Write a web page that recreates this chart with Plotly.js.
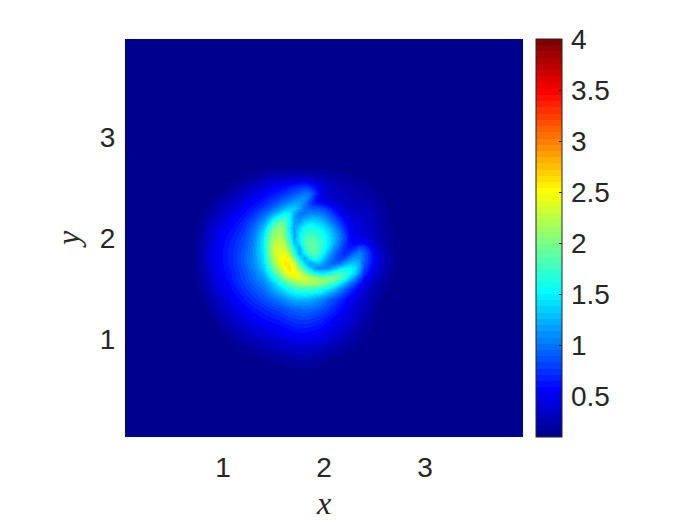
<!DOCTYPE html>
<html><head><meta charset="utf-8">
<script src="https://cdn.plot.ly/plotly-3.0.1.min.js"></script>
<style>html,body{margin:0;padding:0;background:#fff}</style></head>
<body><div id="chart" style="width:700px;height:525px"></div>
<script>
const xValues=[0.03,0.6,0.7,0.8,0.9,1.0,1.1,1.2,1.3,1.4,1.45,1.5,1.55,1.6,1.65,1.7,1.75,1.8,1.85,1.9,1.95,2.0,2.05,2.1,2.15,2.2,2.25,2.3,2.35,2.4,2.5,2.6,2.7,2.8,2.9,3.97];
const bg=0.1;
const y270=[.1,.1,.1,.1,.1,.1,.1,.11, .12,.13,.14,.14,.15,.15,.15,.15,.14,.14,.14,.13,.13,.12,.12,.11,.11,.11,.1,.1,.1, .1,.1,.1,.1,.1];
const y260=[.1,.1,.1,.1,.1,.11,.14,.19, .24,.27,.3,.31,.32,.33,.33,.32,.31,.3,.29,.27,.26,.25,.23,.21,.19,.18,.16,.15,.14, .11,.1,.1,.1,.1];
const y250=[.1,.1,.1,.1,.12,.18,.27,.35, .42,.47,.52,.55,.6,.65,.7,.75,.8,.75,.62,.48,.38,.33,.3,.28,.26,.24,.22,.2,.19, .15,.11,.1,.1,.1];
const y245=[.1,.1,.1,.11,.17,.25,.33,.42, .52,.57,.63,.68,.74,.8,.87,.93,1.0,.98,.8,.55,.42,.36,.33,.3,.28,.27,.25,.23,.22, .18,.13,.1,.1,.1];
const y240=[.1,.1,.1,.14,.22,.31,.4,.5, .6,.66,.72,.79,.87,.94,1.02,1.1,1.12,.95,.66,.48,.4,.36,.33,.31,.3,.29,.27,.25,.24, .2,.14,.11,.1,.1];
const y235=[.1,.1,.11,.18,.27,.37,.47,.57, .68,.75,.84,.93,1.02,1.12,1.18,1.18,1.05,.82,.68,.6,.54,.46,.4,.36,.32,.3,.29,.28,.27, .22,.16,.11,.1,.1];
const y230=[.1,.1,.13,.22,.32,.42,.53,.64, .78,.87,.98,1.1,1.22,1.32,1.35,1.2,1.0,.9,.88,.86,.8,.68,.56,.46,.37,.33,.32,.31,.3, .24,.17,.12,.1,.1];
const y225=[.1,.1,.15,.26,.37,.47,.58,.72, .9,1.03,1.18,1.35,1.52,1.5,1.22,1.02,1.0,1.05,1.07,1.03,.96,.84,.7,.56,.45,.38,.35,.34,.33, .26,.18,.12,.1,.1];
const y220=[.1,.11,.17,.3,.42,.52,.64,.8, 1.03,1.22,1.45,1.68,1.78,1.55,1.15,1.08,1.18,1.25,1.28,1.22,1.12,.98,.84,.68,.54,.44,.38,.37,.35, .27,.18,.13,.1,.1];
const y215=[.1,.12,.2,.34,.46,.56,.69,.88, 1.15,1.42,1.72,1.95,1.92,1.55,1.18,1.22,1.38,1.45,1.45,1.38,1.28,1.12,.97,.8,.64,.5,.42,.4,.37, .28,.19,.13,.1,.1];
const y210=[.1,.12,.22,.38,.5,.6,.73,.95, 1.28,1.6,1.92,2.08,1.95,1.5,1.18,1.38,1.55,1.62,1.6,1.52,1.42,1.28,1.1,.92,.72,.55,.45,.42,.39, .29,.2,.13,.1,.1];
const y205=[.1,.13,.24,.41,.54,.64,.77,1.0, 1.38,1.75,2.05,2.18,2.0,1.58,1.18,1.48,1.68,1.75,1.72,1.65,1.52,1.38,1.2,1.02,.8,.58,.47,.43,.41, .3,.2,.14,.1,.1];
const y200=[.1,.13,.25,.43,.56,.67,.8,1.03, 1.45,1.85,2.12,2.25,2.08,1.68,1.2,1.5,1.75,1.85,1.82,1.72,1.6,1.42,1.25,1.05,.84,.6,.48,.46,.45, .31,.21,.14,.1,.1];
const y195=[.1,.14,.26,.45,.58,.69,.83,1.06, 1.48,1.9,2.2,2.32,2.2,1.82,1.25,1.42,1.8,1.92,1.88,1.78,1.62,1.42,1.22,1.0,.78,.6,.54,.58,.58, .34,.22,.14,.1,.1];
const y190=[.1,.14,.27,.46,.59,.71,.85,1.08, 1.48,1.92,2.25,2.38,2.3,2.0,1.5,1.2,1.65,1.9,1.9,1.78,1.58,1.34,1.1,.9,.72,.64,.7,.85,.8, .4,.24,.14,.1,.1];
const y185=[.1,.14,.28,.47,.6,.72,.87,1.09, 1.45,1.9,2.25,2.43,2.42,2.18,1.7,1.2,1.48,1.82,1.88,1.7,1.45,1.2,.97,.8,.7,.78,.95,1.05,.92, .47,.26,.15,.1,.1];
const y180=[.1,.14,.28,.47,.6,.72,.88,1.1, 1.42,1.82,2.18,2.47,2.54,2.4,2.0,1.5,1.2,1.48,1.68,1.55,1.3,1.06,.9,.78,.84,1.02,1.15,1.12,.92, .5,.28,.15,.1,.1];
const y175=[.1,.14,.27,.46,.59,.72,.87,1.08, 1.38,1.72,2.08,2.38,2.58,2.58,2.28,1.78,1.42,1.15,1.25,1.28,1.12,.98,.9,.95,1.14,1.28,1.32,1.2,.88, .48,.28,.15,.1,.1];
const y170=[.1,.14,.26,.45,.58,.7,.85,1.05, 1.32,1.62,1.92,2.22,2.5,2.62,2.45,2.08,1.72,1.42,1.18,1.08,1.05,1.1,1.25,1.42,1.52,1.55,1.45,1.22,.8, .44,.26,.15,.1,.1];
const y165=[.1,.13,.25,.43,.56,.67,.82,1.0, 1.22,1.48,1.72,2.02,2.32,2.5,2.55,2.4,2.1,1.8,1.6,1.5,1.5,1.62,1.75,1.8,1.75,1.6,1.38,1.08,.7, .39,.24,.14,.1,.1];
const y160=[.1,.12,.23,.41,.55,.67,.81,.97, 1.13,1.32,1.54,1.78,2.05,2.25,2.35,2.38,2.38,2.3,2.2,2.1,2.05,2.05,2.0,1.88,1.65,1.38,1.12,.85,.58, .33,.21,.13,.1,.1];
const y155=[.1,.11,.21,.38,.52,.64,.77,.92, 1.05,1.18,1.34,1.54,1.72,1.88,2.02,2.12,2.15,2.15,2.12,2.08,1.98,1.88,1.72,1.5,1.28,1.05,.85,.65,.48, .28,.18,.12,.1,.1];
const y150=[.1,.1,.19,.35,.48,.6,.72,.85, .97,1.08,1.2,1.32,1.45,1.58,1.68,1.72,1.75,1.75,1.7,1.65,1.55,1.42,1.28,1.1,.92,.76,.63,.5,.39, .25,.16,.11,.1,.1];
const y140=[.1,.1,.15,.28,.4,.52,.63,.74, .84,.9,.96,1.03,1.1,1.17,1.22,1.25,1.25,1.22,1.17,1.1,1.02,.92,.82,.72,.62,.53,.45,.38,.32, .2,.13,.1,.1,.1];
const y130=[.1,.1,.12,.21,.32,.43,.53,.62, .69,.73,.77,.8,.85,.89,.92,.95,.96,.95,.92,.88,.82,.75,.68,.6,.53,.46,.4,.33,.28, .17,.11,.1,.1,.1];
const y120=[.1,.1,.1,.15,.25,.35,.44,.52, .58,.61,.64,.66,.7,.73,.76,.78,.78,.77,.74,.71,.66,.6,.55,.49,.43,.38,.33,.28,.24, .14,.1,.1,.1,.1];
const y110=[.1,.1,.1,.11,.17,.26,.33,.4, .45,.48,.5,.53,.56,.59,.62,.63,.63,.62,.6,.57,.53,.48,.44,.39,.35,.31,.27,.23,.2, .12,.1,.1,.1,.1];
const y100=[.1,.1,.1,.1,.12,.18,.24,.29, .34,.37,.39,.41,.43,.46,.48,.49,.49,.48,.47,.44,.41,.38,.34,.31,.27,.24,.21,.17,.15, .1,.1,.1,.1,.1];
const y090=[.1,.1,.1,.1,.1,.12,.15,.19, .23,.25,.27,.29,.31,.33,.34,.35,.35,.34,.33,.31,.29,.26,.24,.21,.18,.16,.14,.12,.11, .1,.1,.1,.1,.1];
const y080=[.1,.1,.1,.1,.1,.1,.11,.13, .15,.16,.17,.19,.2,.21,.22,.23,.23,.22,.21,.2,.18,.17,.15,.13,.12,.11,.1,.1,.1, .1,.1,.1,.1,.1];
const y070=[.1,.1,.1,.1,.1,.1,.1,.1, .11,.11,.12,.12,.13,.14,.15,.16,.16,.15,.14,.13,.12,.11,.11,.1,.1,.1,.1,.1,.1, .1,.1,.1,.1,.1];
const yValues=[0.03,0.6,0.7,0.8,0.9,1.0,1.1,1.2,1.3,1.4,1.5,1.55,1.6,1.65,1.7,1.75,1.8,1.85,1.9,1.95,2.0,2.05,2.1,2.15,2.2,2.25,2.3,2.35,2.4,2.45,2.5,2.6,2.7,2.85,3.97];
const blank=new Array(34).fill(bg);
const rows=[blank,blank,y070,y080,y090,y100,y110,y120,y130,y140,y150,y155,y160,y165,y170,y175,y180,y185,y190,y195,y200,y205,y210,y215,y220,y225,y230,y235,y240,y245,y250,y260,y270,blank,blank];
const zValues=rows.map(r=>[bg].concat(r,[bg]));
const xTicks=[1,2,3], yTicks=[1,2,3], cbTicks=[0.5,1,1.5,2,2.5,3,3.5,4];
const cbLabels=['\u200A0.5','\u200A1','\u200A1.5','\u200A2','\u200A2.5','\u200A3','\u200A3.5','\u200A4'];

function jet(i){ // MATLAB jet(64), i = 1..64
  let r=0,g=0,b=0;
  if(i<=8){b=.5+i/16;}
  else if(i<=24){g=(i-8)/16;b=1;}
  else if(i<=40){r=(i-24)/16;g=1;b=1-(i-24)/16;}
  else if(i<=56){r=1;g=1-(i-40)/16;}
  else{r=1-(i-56)/16;}
  return `rgb(${Math.round(r*255)},${Math.round(g*255)},${Math.round(b*255)})`;
}
const jetScale=[];
for(let i=1;i<=64;i++){const c=jet(i);jetScale.push([(i-1)/64,c]);jetScale.push([i/64,c]);}

const ink='#262626';
const tickFont={family:'"Liberation Sans",Arial,sans-serif',size:28,color:ink};
const labelFont={family:'"Liberation Serif","DejaVu Serif",serif',size:32,color:ink};
Plotly.newPlot('chart',[{type:'heatmap',x:xValues,y:yValues,z:zValues,zmin:0.1,zmax:4,zsmooth:'best',
  colorscale:jetScale,hoverinfo:'skip',
  colorbar:{thicknessmode:'pixels',thickness:26,lenmode:'fraction',len:1,x:1.0327,xanchor:'left',y:1,yanchor:'top',xpad:0,ypad:0,
    tickmode:'array',tickvals:cbTicks,ticktext:cbLabels,ticks:'inside',ticklen:3,tickwidth:1,tickcolor:ink,tickfont:tickFont,
    outlinewidth:1,outlinecolor:ink,borderwidth:0}
}],{
  width:700,height:525,margin:{l:125,r:177,t:39,b:88,pad:0},paper_bgcolor:'#fff',plot_bgcolor:'#fff',
  xaxis:{range:[0.03,3.97],tickmode:'array',tickvals:xTicks,ticktext:xTicks.map(String),ticks:'outside',ticklen:5,tickcolor:'rgba(0,0,0,0)',showgrid:false,zeroline:false,showline:false,
    tickfont:tickFont,title:{text:'<i>x</i>',font:labelFont,standoff:10}},
  yaxis:{range:[0.03,3.97],tickmode:'array',tickvals:yTicks,ticktext:yTicks.map(String),ticks:'outside',ticklen:3,tickcolor:'rgba(0,0,0,0)',showgrid:false,zeroline:false,showline:false,
    tickfont:tickFont,title:{text:'<i>y</i>',font:labelFont,standoff:10}}
},{displayModeBar:false,staticPlot:true});
</script></body></html>
